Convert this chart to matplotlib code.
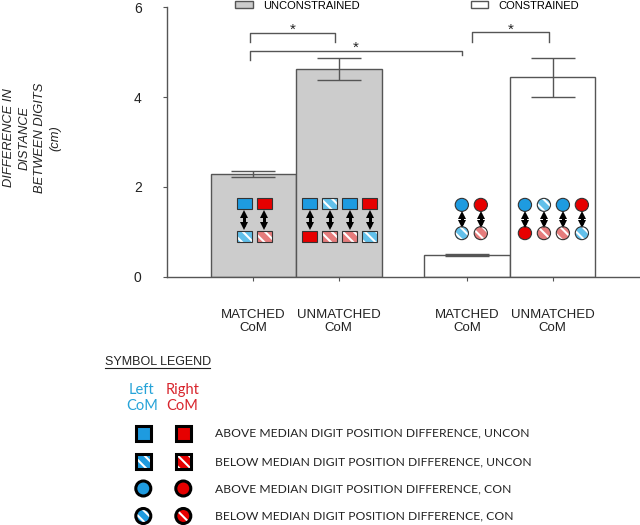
import matplotlib
matplotlib.use('Agg')
import matplotlib.pyplot as plt
from matplotlib.patches import Rectangle, Ellipse, Patch
from matplotlib.lines import Line2D

plt.rcParams['font.family'] = ['Liberation Sans', 'DejaVu Sans']
plt.rcParams['hatch.linewidth'] = 1.5

# ---- data ----
conditions = ['UNCONSTRAINED', 'CONSTRAINED']
categories = ['MATCHED\nCoM', 'UNMATCHED\nCoM', 'MATCHED\nCoM', 'UNMATCHED\nCoM']
bar_condition = [0, 0, 1, 1]
means = [2.28, 4.62, 0.48, 4.44]
sems = [0.065, 0.24, 0.02, 0.43]
y_ticks = [0, 2, 4, 6]

# symbols drawn inside each bar: L/R = left/right CoM, A/B = above/below median
bar_top_syms = [['LA', 'RA'], ['LA', 'LB', 'LA', 'RA'], ['LA', 'RA'], ['LA', 'LB', 'LA', 'RA']]
bar_bot_syms = [['LB', 'RB'], ['RA', 'RB', 'RB', 'LB'], ['LB', 'RB'], ['RA', 'RB', 'RB', 'LB']]

legend_rows = ['ABOVE MEDIAN DIGIT POSITION DIFFERENCE, UNCON',
               'BELOW MEDIAN DIGIT POSITION DIFFERENCE, UNCON',
               'ABOVE MEDIAN DIGIT POSITION DIFFERENCE, CON',
               'BELOW MEDIAN DIGIT POSITION DIFFERENCE, CON']
legend_row_syms = [('LA', 'RA'), ('LB', 'RB'), ('LA', 'RA'), ('LB', 'RB')]
legend_row_shape = ['square', 'square', 'circle', 'circle']

# ---- layout ----
x_pos = [0, 1, 2.5, 3.5]
bar_colors = ['#cccccc', 'white']
edge = '#555555'
blue = '#1e9be0'
red = '#e60000'
light = {'L': '#62c0ea', 'R': '#e57c7c'}
solid = {'L': blue, 'R': red}

# significance brackets: x0, x1, top, left drop, right drop
brackets = [(-0.04, 0.955, 5.42, 5.23, 5.23),
            (-0.04, 2.444, 5.03, 4.83, 4.94),
            (2.56, 3.46, 5.44, 5.23, 5.23)]

fig = plt.figure(figsize=(6.4, 5.25), dpi=100)
W, H = 640.0, 525.0
ax = fig.add_axes([166.7 / W, (H - 276.7) / H, (W - 166.7) / W, (276.7 - 7.3) / H])

ax.bar(x_pos, means, width=1, color=[bar_colors[c] for c in bar_condition],
       edgecolor=edge, linewidth=1, zorder=2)
ax.errorbar(x_pos, means, yerr=sems, fmt='none', ecolor=edge, elinewidth=1,
            capsize=15.5, capthick=1, zorder=3)

ax.set_xlim(-1.013, 4.523)
ax.set_ylim(0, 6)
ax.set_yticks(y_ticks)
ax.set_xticks(x_pos)
ax.set_xticklabels(categories)
ax.tick_params(axis='y', length=3, pad=15, labelsize=10, color=edge, labelcolor='#222222')
ax.tick_params(axis='x', length=3, pad=20, labelsize=9.5, color=edge, labelcolor='#222222')
for s in ['top', 'right']:
    ax.spines[s].set_visible(False)
for s in ['left', 'bottom']:
    ax.spines[s].set_color(edge)
    ax.spines[s].set_linewidth(1)

# brackets and stars
for x0, x1, top, d0, d1 in brackets:
    ax.plot([x0, x0, x1, x1], [d0, top, top, d1], color=edge, lw=1, zorder=3)
    ax.text((x0 + x1) / 2, top - 0.02, '*', ha='center', va='baseline',
            fontsize=11, color='#222222')


def draw_sym(a, x, y, code, shape, w, h, ec, lw, hatch, z=5):
    side, level = code[0], code[1]
    if shape == 'square':
        mk = lambda **kw: Rectangle((x - w / 2, y - h / 2), w, h, **kw)
    else:
        mk = lambda **kw: Ellipse((x, y), w, h, **kw)
    if level == 'A':
        a.add_patch(mk(facecolor=solid[side], edgecolor=ec, linewidth=lw, zorder=z))
    else:
        a.add_patch(mk(facecolor=hatch[side], edgecolor='white', hatch=hatch['p'],
                       linewidth=0, zorder=z))
        a.add_patch(mk(facecolor='none', edgecolor=ec, linewidth=lw, zorder=z + 1))


def double_arrow(a, x, y0, y1):
    # shaft plus two triangle heads
    hd = 0.06
    a.plot([x, x], [y0 + hd, y1 - hd], color='black', lw=2.2, solid_capstyle='butt', zorder=5)
    a.plot([x], [y1 - hd], marker='^', ms=5.5, color='black', mew=0, zorder=5)
    a.plot([x], [y0 + hd], marker='v', ms=5.5, color='black', mew=0, zorder=5)


# symbols inside the bars
for i, xc in enumerate(x_pos):
    shape = 'square' if bar_condition[i] == 0 else 'circle'
    n = len(bar_top_syms[i])
    if shape == 'square':
        step, w, h = 0.235, 0.175, 0.245
        y_top, y_bot = 1.62, 0.89
        a_top, a_bot = 1.45, 1.08
    else:
        step, w, h = 0.222, 0.155, 0.29
        y_top, y_bot = 1.60, 0.97
        a_top, a_bot = 1.43, 1.12
    shift = 0.05 if i == 2 else 0.01
    for j in range(n):
        xs = xc + shift + (j - (n - 1) / 2) * step
        draw_sym(ax, xs, y_top, bar_top_syms[i][j], shape, w, h, '#333333', 0.8,
                 dict(light, p='\\\\\\'))
        draw_sym(ax, xs, y_bot, bar_bot_syms[i][j], shape, w, h, '#333333', 0.8,
                 dict(light, p='\\\\\\'))
        double_arrow(ax, xs, a_bot, a_top)

# condition legend
handles = [Patch(facecolor=bar_colors[0], edgecolor=edge, linewidth=1),
           Patch(facecolor=bar_colors[1], edgecolor=edge, linewidth=1)]
ax.legend(handles, conditions, ncol=2, loc='center left',
          bbox_to_anchor=(235 / W, 1 - 5.7 / H), bbox_transform=fig.transFigure,
          frameon=False, fontsize=8, handlelength=1.6, handleheight=0.6,
          handletextpad=0.9, columnspacing=10, borderpad=0, borderaxespad=0)

# y label
fig.text(32 / W, 1 - 138 / H, 'DIFFERENCE IN\nDISTANCE\nBETWEEN DIGITS\n(cm)',
         rotation=90, ha='center', va='center', fontsize=9.3, style='italic',
         linespacing=1.38, multialignment='center', color='#222222')

# symbol legend (pixel-coordinate overlay)
ov = fig.add_axes([0, 0, 1, 1])
ov.set_xlim(0, W)
ov.set_ylim(H, 0)
ov.axis('off')
ov.text(105, 362, 'SYMBOL LEGEND', ha='left', va='center', fontsize=9, color='#222222')
ov.add_line(Line2D([105, 210], [367.5, 367.5], color='#222222', lw=0.8))
ov.text(141.7, 398, 'Left\nCoM', ha='center', va='center', fontsize=10.5,
        family=['Lato', 'DejaVu Sans'], color='#26a3d8', linespacing=1.1)
ov.text(182.5, 398, 'Right\nCoM', ha='center', va='center', fontsize=10.5,
        family=['Lato', 'DejaVu Sans'], color='#d8252d', linespacing=1.1)

row_y = [433, 461.5, 488.5, 516]
for k, label in enumerate(legend_rows):
    for cx, code in zip([143.3, 183.3], legend_row_syms[k]):
        draw_sym(ov, cx, row_y[k], code, legend_row_shape[k], 15, 15, 'black', 2.2,
                 dict(solid, p='\\\\\\'))
    ov.text(215, row_y[k], label, ha='left', va='center', fontsize=8.7,
            family=['Lato', 'DejaVu Sans'], color='#222222')

fig.savefig('out.png', dpi=100)
